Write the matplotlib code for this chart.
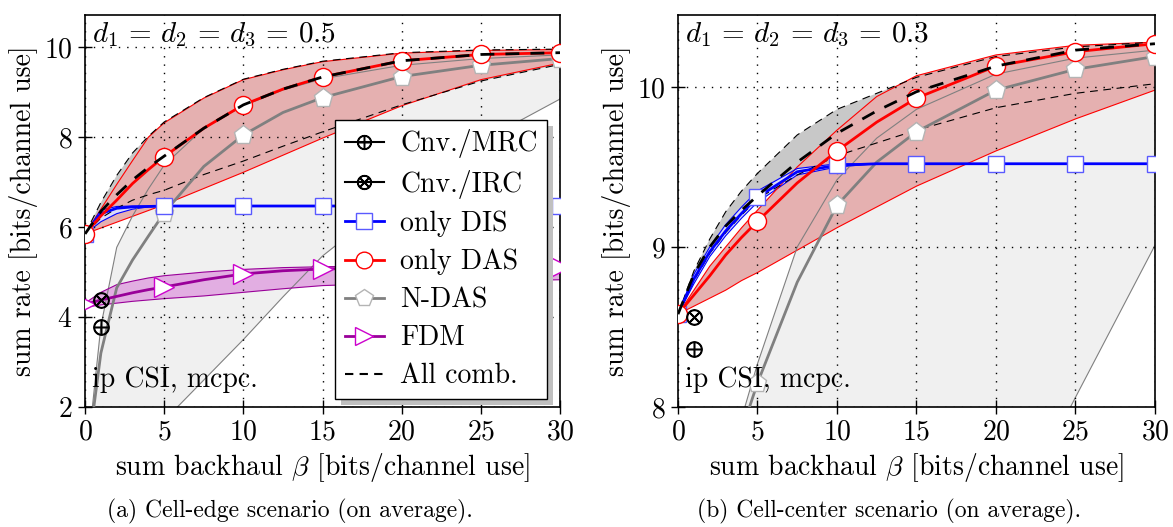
import numpy as np
import matplotlib.pyplot as plt
from matplotlib.lines import Line2D
from matplotlib.patches import Rectangle
from matplotlib.transforms import IdentityTransform

plt.rcParams.update({
    'font.family': 'serif',
    'font.serif': ['cmr10'],
    'mathtext.fontset': 'cm',
    'axes.formatter.use_mathtext': True,
    'font.size': 20,
    'axes.linewidth': 1.2,
})

# sum backhaul grid and the points that carry markers
beta = np.array([0, 1, 2, 3, 4, 5, 7.5, 10, 12.5, 15, 20, 25, 30])
beta_marks = [0, 5, 10, 15, 20, 25, 30]
conv_beta = 1

# (a) cell-edge, d1 = d2 = d3 = 0.5
das_lo_a = [5.85, 5.98, 6.11, 6.24, 6.37, 6.5, 6.86, 7.22, 7.6, 7.98, 8.7, 9.28, 9.65]
das_mid_a = [5.85, 6.25, 6.6, 6.97, 7.28, 7.57, 8.2, 8.72, 9.07, 9.34, 9.7, 9.84, 9.88]
das_hi_a = [5.85, 6.4, 6.95, 7.48, 8.0, 8.32, 8.87, 9.28, 9.5, 9.68, 9.87, 9.93, 9.95]
comb_lo_a = [5.85, 6.2, 6.42, 6.6, 6.72, 6.82, 7.17, 7.47, 7.8, 8.12, 8.72, 9.25, 9.62]
comb_mid_a = [5.85, 6.35, 6.72, 7.05, 7.33, 7.58, 8.2, 8.72, 9.07, 9.34, 9.7, 9.84, 9.88]
comb_hi_a = [5.85, 6.55, 7.15, 7.65, 8.02, 8.34, 8.88, 9.29, 9.51, 9.69, 9.88, 9.94, 9.96]
dis_lo_a = [5.85, 6.12, 6.3, 6.4, 6.45, 6.47, 6.47, 6.47, 6.47, 6.47, 6.47, 6.47, 6.47]
dis_mid_a = [5.85, 6.3, 6.42, 6.45, 6.46, 6.47, 6.47, 6.47, 6.47, 6.47, 6.47, 6.47, 6.47]
dis_hi_a = [5.85, 6.38, 6.46, 6.47, 6.47, 6.47, 6.47, 6.47, 6.47, 6.47, 6.47, 6.47, 6.47]
ndas_lo_a = [-0.2, 0.2, 0.6, 1.0, 1.35, 1.7, 2.6, 3.5, 4.45, 5.36, 6.75, 7.9, 8.85]
ndas_mid_a = [0.5, 3.2, 4.65, 5.27, 5.8, 6.32, 7.35, 8.05, 8.55, 8.88, 9.35, 9.6, 9.75]
ndas_hi_a = [0.45, 3.8, 5.55, 6.25, 6.85, 7.38, 8.2, 8.7, 9.05, 9.3, 9.6, 9.75, 9.83]
fdm_lo_a = [4.22, 4.27, 4.31, 4.35, 4.38, 4.41, 4.47, 4.55, 4.63, 4.7, 4.76, 4.8, 4.83]
fdm_mid_a = [4.28, 4.38, 4.46, 4.54, 4.61, 4.67, 4.83, 4.96, 5.03, 5.07, 5.1, 5.11, 5.11]
fdm_hi_a = [4.31, 4.55, 4.72, 4.8, 4.87, 4.92, 5.0, 5.06, 5.1, 5.12, 5.14, 5.15, 5.15]
conv_mrc_a, conv_irc_a = 3.79, 4.38

# (b) cell-center, d1 = d2 = d3 = 0.3
das_lo_b = [8.58, 8.63, 8.68, 8.73, 8.79, 8.84, 8.98, 9.12, 9.25, 9.38, 9.6, 9.8, 9.98]
das_mid_b = [8.58, 8.7, 8.82, 8.95, 9.06, 9.16, 9.4, 9.6, 9.78, 9.93, 10.13, 10.22, 10.27]
das_hi_b = [8.58, 8.73, 8.88, 9.0, 9.12, 9.23, 9.5, 9.73, 9.94, 10.07, 10.2, 10.26, 10.28]
comb_lo_b = [8.58, 8.79, 8.96, 9.09, 9.2, 9.3, 9.45, 9.57, 9.65, 9.73, 9.87, 9.96, 10.02]
comb_mid_b = [8.58, 8.83, 9.0, 9.13, 9.23, 9.32, 9.53, 9.71, 9.85, 9.97, 10.13, 10.23, 10.27]
comb_hi_b = [8.58, 8.85, 9.05, 9.22, 9.35, 9.46, 9.7, 9.86, 9.96, 10.06, 10.19, 10.25, 10.28]
dis_lo_b = [8.58, 8.77, 8.94, 9.07, 9.18, 9.28, 9.45, 9.5, 9.52, 9.52, 9.52, 9.52, 9.52]
dis_mid_b = [8.58, 8.8, 8.97, 9.1, 9.21, 9.31, 9.47, 9.51, 9.52, 9.52, 9.52, 9.52, 9.52]
dis_hi_b = [8.58, 8.83, 9.0, 9.14, 9.25, 9.35, 9.49, 9.52, 9.52, 9.52, 9.52, 9.52, 9.52]
ndas_lo_b = [2.0, 2.3, 2.6, 2.9, 3.2, 3.5, 4.2, 4.9, 5.5, 6.1, 7.1, 8.06, 9.01]
ndas_mid_b = [6.0, 6.6, 7.1, 7.5, 7.85, 8.15, 8.78, 9.26, 9.53, 9.72, 9.98, 10.11, 10.19]
ndas_hi_b = [6.1, 6.7, 7.2, 7.6, 7.93, 8.27, 9.0, 9.42, 9.68, 9.86, 10.08, 10.18, 10.23]
conv_mrc_b, conv_irc_b = 8.36, 8.56

DAS_FILL = '#e5b0b0'
FDM_C = '#990099'


def draw_panel(ax, ndas, das, comb, dis, conv, fdm=None):
    marks = [int(i) for i in np.flatnonzero(np.isin(beta, beta_marks))]

    # shaded min/max ranges
    ax.fill_between(beta, ndas[0], ndas[2], fc='#f0f0f0', lw=0, zorder=1)
    ax.fill_between(beta, comb[0], comb[2], fc='#c8c8c8', lw=0, zorder=1.1)
    ax.fill_between(beta, das[0], das[2], fc=DAS_FILL, lw=0, zorder=1.2)
    ax.fill_between(beta, dis[0], dis[2], fc='#dcdcf8', lw=0, zorder=1.3)
    if fdm is not None:
        ax.fill_between(beta, fdm[0], fdm[2], fc='#e2aee2', lw=0, zorder=1.3)

    # range edges
    for k in (0, 2):
        ax.plot(beta, ndas[k], color='#808080', lw=0.8, zorder=2)
        ax.plot(beta, das[k], color='red', lw=0.8, zorder=2)
        ax.plot(beta, dis[k], color='blue', lw=0.8, zorder=2)
        ax.plot(beta, comb[k], color='k', lw=0.8, dashes=(7, 5), zorder=2.1)
        if fdm is not None:
            ax.plot(beta, fdm[k], color=FDM_C, lw=0.8, zorder=2)

    # averages
    ax.plot(beta, ndas[1], color='#808080', lw=2, marker='p', ms=14, mfc='white',
            mec='#b4b4b4', markevery=marks, zorder=3)
    if fdm is not None:
        ax.plot(beta, fdm[1], color=FDM_C, lw=2, marker='>', ms=14, mfc='white',
                mec='#cc00cc', markevery=marks, zorder=3)
    ax.plot(beta, dis[1], color='blue', lw=2, marker='s', ms=12, mfc='white',
            mec='#5a5aff', markevery=marks, zorder=3.1)
    ax.plot(beta, das[1], color='red', lw=2, marker='o', ms=13, mfc='white',
            mec='red', markevery=marks, zorder=3.2)
    ax.plot(beta, comb[1], color='k', lw=2, dashes=(5, 4), zorder=3.3)

    ax.plot([conv_beta], [conv[0]], ls='none', marker=r'$\oplus$', ms=11, color='k', zorder=4)
    ax.plot([conv_beta], [conv[1]], ls='none', marker=r'$\otimes$', ms=11, color='k', zorder=4)

    ax.set_xlim(0, 30)
    ax.set_xticks(beta_marks)
    ax.grid(True, color='k', lw=1, ls=(0, (1, 5)))
    ax.set_axisbelow(False)
    ax.tick_params(direction='inout', length=10, width=1, labelsize=20, pad=4)
    ax.set_xlabel(r'sum backhaul $\beta$ [bits/channel use]', fontsize=20)
    ax.set_ylabel('sum rate [bits/channel use]', fontsize=20)
    ax.text(0.015, 0.035, 'ip CSI, mcpc.', transform=ax.transAxes, fontsize=20,
            ha='left', va='bottom', zorder=6)


fig = plt.figure(figsize=(11.73, 5.27), dpi=100)
ax_a = fig.add_axes([0.0725, 0.2277, 0.405, 0.744])
ax_b = fig.add_axes([0.578, 0.2277, 0.4066, 0.744])

draw_panel(ax_a,
           (ndas_lo_a, ndas_mid_a, ndas_hi_a),
           (das_lo_a, das_mid_a, das_hi_a),
           (comb_lo_a, comb_mid_a, comb_hi_a),
           (dis_lo_a, dis_mid_a, dis_hi_a),
           (conv_mrc_a, conv_irc_a),
           fdm=(fdm_lo_a, fdm_mid_a, fdm_hi_a))
ax_a.set_ylim(2, 10.72)
ax_a.set_yticks([2, 4, 6, 8, 10])
ax_a.text(0.015, 0.985, r'$d_1\,=\,d_2\,=\,d_3\,=\,0.5$', transform=ax_a.transAxes,
          fontsize=21, ha='left', va='top')

draw_panel(ax_b,
           (ndas_lo_b, ndas_mid_b, ndas_hi_b),
           (das_lo_b, das_mid_b, das_hi_b),
           (comb_lo_b, comb_mid_b, comb_hi_b),
           (dis_lo_b, dis_mid_b, dis_hi_b),
           (conv_mrc_b, conv_irc_b))
ax_b.set_ylim(8, 10.45)
ax_b.set_yticks([8, 9, 10])
ax_b.text(0.015, 0.985, r'$d_1\,=\,d_2\,=\,d_3\,=\,0.3$', transform=ax_b.transAxes,
          fontsize=21, ha='left', va='top')

handles = [
    Line2D([], [], color='k', lw=1.5, marker=r'$\oplus$', ms=10),
    Line2D([], [], color='k', lw=1.5, marker=r'$\otimes$', ms=10),
    Line2D([], [], color='blue', lw=2, marker='s', ms=11, mfc='white', mec='#5a5aff'),
    Line2D([], [], color='red', lw=2, marker='o', ms=12, mfc='white', mec='red'),
    Line2D([], [], color='#808080', lw=2, marker='p', ms=13, mfc='white', mec='#b4b4b4'),
    Line2D([], [], color=FDM_C, lw=2, marker='>', ms=13, mfc='white', mec='#cc00cc'),
    Line2D([], [], color='k', lw=1.5, dashes=(4, 3)),
]
labels = ['Cnv./MRC', 'Cnv./IRC', 'only DIS', 'only DAS', 'N-DAS', 'FDM', 'All comb.']
leg = ax_a.legend(handles, labels, loc='upper left', bbox_to_anchor=(0.526, 0.733),
                  frameon=True, fancybox=False, edgecolor='k', framealpha=1,
                  fontsize=20, handlelength=1.4, handletextpad=0.6,
                  labelspacing=0.42, borderpad=0.35, borderaxespad=0)
leg.get_frame().set_linewidth(1.0)
leg.set_zorder(10)

# offset drop shadow behind the legend box
fig.canvas.draw()
bb = leg.get_window_extent()
ax_a.add_artist(Rectangle((bb.x0 + 6, bb.y0 - 6), bb.width, bb.height,
                          transform=IdentityTransform(), fc='#c0c0c0', ec='none',
                          zorder=9.5, clip_on=False))

fig.text(0.247, 0.03, '(a) Cell-edge scenario (on average).', ha='center',
         va='center', fontsize=17)
fig.text(0.758, 0.03, '(b) Cell-center scenario (on average).', ha='center',
         va='center', fontsize=17)

fig.savefig('out.png', dpi=100)
